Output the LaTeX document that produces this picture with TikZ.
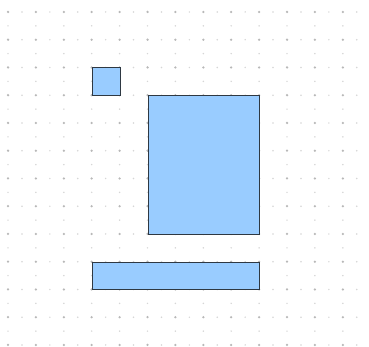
\documentclass[tikz,border=0pt]{standalone}
\begin{document}
\begin{tikzpicture}[x=1cm,y=0.9946cm]
\definecolor{boxfill}{HTML}{99CCFF}
\definecolor{boxline}{HTML}{2E3842}
\tikzset{
  majordot/.style={fill=black!28},
  minordot/.style={fill=black!16},
  shapebox/.style={draw=boxline, line width=0.85pt, fill=boxfill, inner sep=0pt, anchor=north west}}
\useasboundingbox[fill=white] (-0.287cm,0.430cm) rectangle (12.939cm,-12.007cm);
% grid dots
\foreach \i in {0,...,12}{
  \foreach \j in {0,...,12}{
    \fill[majordot] (\i,-\j) circle (0.045cm);
    \fill[minordot] (\i+0.5,-\j) circle (0.03cm);
    \fill[minordot] (\i,-\j-0.5) circle (0.03cm);
  }
}
% shapes
\node[shapebox, minimum width=1cm, minimum height=0.9946cm] (small) at (3,-2) {};
\node[shapebox, minimum width=4cm, minimum height=4.973cm] (big) at (5,-3) {};
\node[shapebox, minimum width=6cm, minimum height=0.9946cm] (bar) at (3,-9) {};
\end{tikzpicture}
\end{document}
